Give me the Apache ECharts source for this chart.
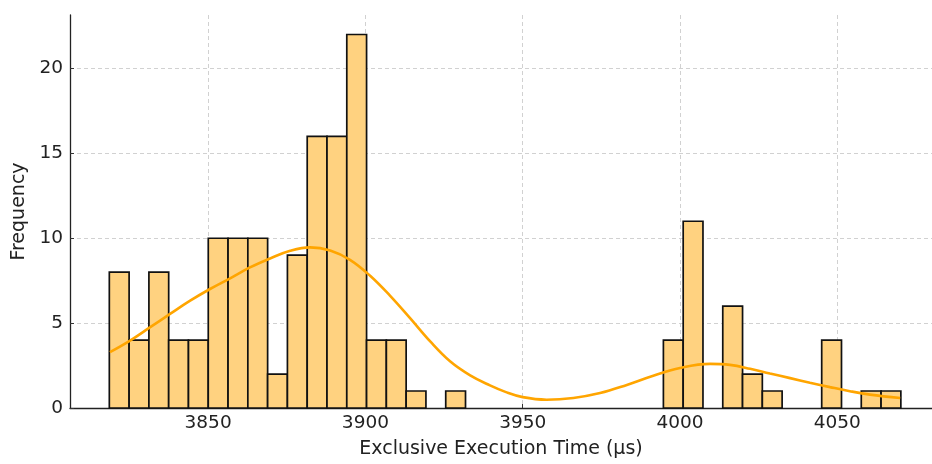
<!DOCTYPE html>
<html>
<head>
<meta charset="utf-8">
<script src="https://cdn.jsdelivr.net/npm/echarts@6/dist/echarts.min.js"></script>
<style>
  html, body { margin: 0; padding: 0; background: #fff; }
  #chart { width: 932px; height: 464px; }
</style>
</head>
<body>
<div id="chart"></div>
<script>
// histogram bins (40 bins)
var binStart = 3818.6;
var binWidth = 6.29;
var counts = [8, 4, 8, 4, 4, 10, 10, 10, 2, 9,
              16, 16, 22, 4, 4, 1, 0, 1, 0, 0,
              0, 0, 0, 0, 0, 0, 0, 0, 4, 11,
              0, 6, 2, 1, 0, 0, 4, 0, 1, 1];

// kde curve
var kdeX = [3818.8, 3825.2, 3831.6, 3837.9, 3844.3, 3850.6, 3857.0, 3863.3, 3869.7, 3876.1,
            3882.4, 3888.8, 3895.1, 3901.5, 3907.8, 3914.2, 3920.6, 3926.9, 3933.3, 3939.6,
            3944.5, 3950.0, 3957.6, 3966.1, 3974.6, 3983.1, 3991.5, 4000.0, 4009.6, 4015.9,
            4022.3, 4028.6, 4035.0, 4041.3, 4047.7, 4054.0, 4060.4, 4070.0];
var kdeY = [3.29, 3.97, 4.76, 5.54, 6.32, 7.01, 7.64, 8.28, 8.81, 9.26,
            9.46, 9.28, 8.73, 7.79, 6.62, 5.29, 3.92, 2.75, 1.92, 1.33,
            0.95, 0.64, 0.49, 0.59, 0.88, 1.36, 1.9, 2.36, 2.6, 2.54,
            2.31, 2.03, 1.76, 1.49, 1.23, 0.99, 0.79, 0.59];

var xTicks = [3850, 3900, 3950, 4000, 4050];
var yTicks = [0, 5, 10, 15, 20];

var barData = [];
for (var i = 0; i < counts.length; i++) {
    if (counts[i] === 0) continue;
    barData.push([binStart + i * binWidth, binStart + (i + 1) * binWidth, counts[i]]);
}
var kdeData = kdeX.map(function (x, k) { return [x, kdeY[k]]; });

var chart = echarts.init(document.getElementById('chart'));
var txt = { color: '#222', fontFamily: 'DejaVu Sans', fontSize: 18.5 };
var nameTxt = { color: '#222', fontFamily: 'DejaVu Sans', fontSize: 19 };
var gridLine = { show: true, lineStyle: { color: '#cccccc', type: [4, 3], width: 0.9 } };

chart.setOption({
    animation: false,
    grid: { left: 70, right: 0, top: 15, bottom: 55 },
    xAxis: {
        type: 'value',
        min: 3806.1,
        max: 4080.1,
        name: 'Exclusive Execution Time (µs)',
        nameLocation: 'middle',
        nameGap: 32,
        nameTextStyle: nameTxt,
        axisLine: { onZero: false, lineStyle: { color: '#222', width: 1.3 } },
        axisTick: { show: true, inside: true, length: 4, customValues: xTicks, lineStyle: { color: '#333' } },
        axisLabel: Object.assign({
            customValues: xTicks, margin: 6,
            formatter: function (v) { return String(v); }
        }, txt),
        splitLine: gridLine
    },
    yAxis: {
        type: 'value',
        min: 0,
        max: 23.15,
        name: 'Frequency',
        nameLocation: 'middle',
        nameGap: 38,
        nameTextStyle: nameTxt,
        axisLine: { show: true, lineStyle: { color: '#222', width: 1.3 } },
        axisTick: { show: true, inside: true, length: 4, customValues: yTicks, lineStyle: { color: '#333' } },
        axisLabel: Object.assign({ customValues: yTicks, margin: 7 }, txt),
        splitLine: gridLine
    },
    series: [
        {
            type: 'custom',
            data: barData,
            encode: { x: [0, 1], y: 2 },
            renderItem: function (params, api) {
                var p0 = api.coord([api.value(0), api.value(2)]);
                var p1 = api.coord([api.value(1), 0]);
                return {
                    type: 'rect',
                    shape: { x: p0[0], y: p0[1], width: p1[0] - p0[0], height: p1[1] - p0[1] },
                    style: { fill: '#FFD280', stroke: '#111', lineWidth: 1.7 }
                };
            },
            z: 2
        },
        {
            type: 'line',
            data: kdeData,
            smooth: 0.4,
            showSymbol: false,
            lineStyle: { color: '#FFA500', width: 2.6 },
            z: 3
        }
    ]
});
</script>
</body>
</html>
